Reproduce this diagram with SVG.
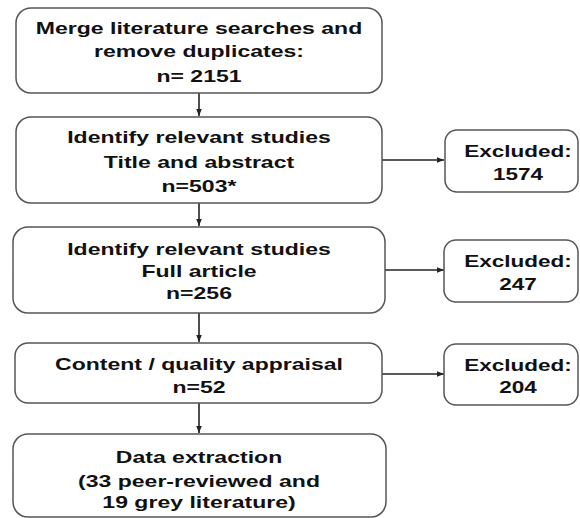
<svg xmlns="http://www.w3.org/2000/svg" width="580" height="518" viewBox="0 0 580 518">
<defs>
<style>
.box{fill:#fff;stroke:#555;stroke-width:1.5}
.t{font-family:"Liberation Sans",Arial,sans-serif;font-weight:bold;font-size:16px;fill:#111;text-anchor:middle}
.c{stroke:#222;stroke-width:1.6;fill:none}
</style>
<marker id="ah" viewBox="0 0 10 10" refX="10" refY="5" markerWidth="7" markerHeight="7" markerUnits="userSpaceOnUse" orient="auto">
<path d="M0,1 L10,5 L0,9 z" fill="#222"/>
</marker>
</defs>
<rect width="580" height="518" fill="#fff"/>
<g id="connectors">
<line class="c" x1="199" y1="93" x2="199" y2="116" marker-end="url(#ah)"/>
<line class="c" x1="199" y1="203" x2="199" y2="226" marker-end="url(#ah)"/>
<line class="c" x1="199" y1="313" x2="199" y2="342" marker-end="url(#ah)"/>
<line class="c" x1="199" y1="403" x2="199" y2="433" marker-end="url(#ah)"/>
<line class="c" x1="382" y1="160" x2="444" y2="160" marker-end="url(#ah)"/>
<line class="c" x1="385" y1="270" x2="444" y2="270" marker-end="url(#ah)"/>
<line class="c" x1="382" y1="374" x2="444" y2="374" marker-end="url(#ah)"/>
</g>
<g id="merge">
<rect class="box" x="16" y="8" width="366" height="85" rx="15"/>
<g transform="translate(199 0) scale(1.44 1)">
<text class="t" x="0" y="34">Merge literature searches and</text>
<text class="t" x="0" y="57">remove duplicates:</text>
<text class="t" x="0" y="82">n= 2151</text>
</g>
</g>
<g id="title">
<rect class="box" x="16" y="117" width="366" height="86" rx="15"/>
<g transform="translate(199 0) scale(1.44 1)">
<text class="t" x="0" y="143">Identify relevant studies</text>
<text class="t" x="0" y="168">Title and abstract</text>
<text class="t" x="0" y="192">n=503*</text>
</g>
</g>
<g id="full">
<rect class="box" x="13" y="227" width="372" height="86" rx="15"/>
<g transform="translate(199 0) scale(1.44 1)">
<text class="t" x="0" y="255">Identify relevant studies</text>
<text class="t" x="0" y="277">Full article</text>
<text class="t" x="0" y="299">n=256</text>
</g>
</g>
<g id="appraisal">
<rect class="box" x="15" y="343" width="367" height="60" rx="13"/>
<g transform="translate(199 0) scale(1.44 1)">
<text class="t" x="0" y="370">Content / quality appraisal</text>
<text class="t" x="0" y="393">n=52</text>
</g>
</g>
<g id="extraction">
<rect class="box" x="13" y="434" width="373" height="83" rx="15"/>
<g transform="translate(199 0) scale(1.44 1)">
<text class="t" x="0" y="463">Data extraction</text>
<text class="t" x="0" y="487">(33 peer-reviewed and</text>
<text class="t" x="0" y="508">19 grey literature)</text>
</g>
</g>
<g id="excl1">
<rect class="box" x="445" y="130" width="133" height="62" rx="12"/>
<g transform="translate(518 0) scale(1.41 1)">
<text class="t" x="0" y="157">Excluded:</text>
<text class="t" x="0" y="180">1574</text>
</g>
</g>
<g id="excl2">
<rect class="box" x="444" y="240" width="134" height="62" rx="12"/>
<g transform="translate(518 0) scale(1.41 1)">
<text class="t" x="0" y="267">Excluded:</text>
<text class="t" x="0" y="290">247</text>
</g>
</g>
<g id="excl3">
<rect class="box" x="444" y="344" width="134" height="61" rx="12"/>
<g transform="translate(518 0) scale(1.41 1)">
<text class="t" x="0" y="371">Excluded:</text>
<text class="t" x="0" y="393">204</text>
</g>
</g>
</svg>
